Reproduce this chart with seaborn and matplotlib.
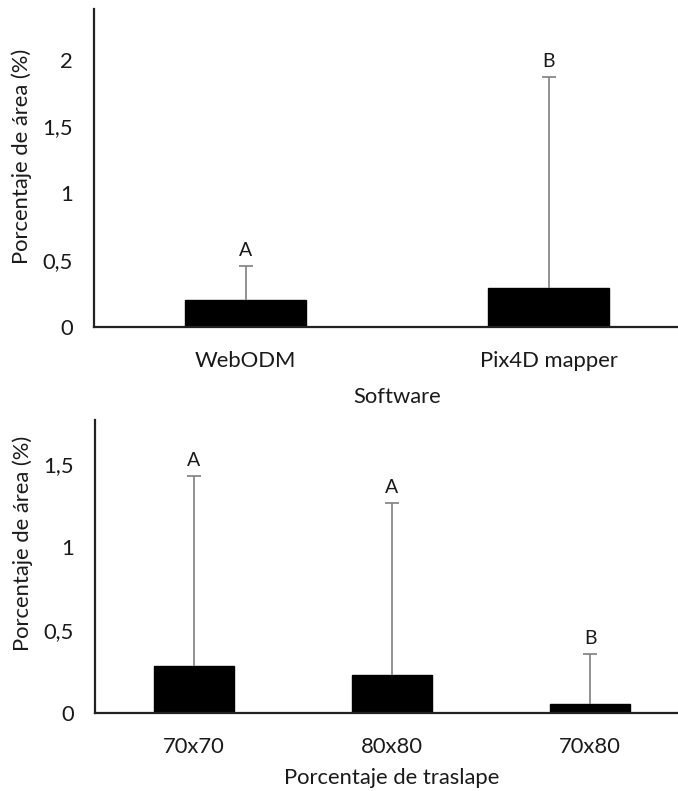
import numpy as np
import matplotlib
matplotlib.use("Agg")
import matplotlib.pyplot as plt
import seaborn as sns

# top panel: software
software = ["WebODM", "Pix4D mapper"]
software_mean = [0.20, 0.29]
software_err = [0.26, 1.58]
software_letters = ["A", "B"]

# bottom panel: overlap
overlap = ["70x70", "80x80", "70x80"]
overlap_mean = [0.285, 0.23, 0.054]
overlap_err = [1.145, 1.035, 0.30]
overlap_letters = ["A", "A", "B"]

sns.set_style("white")
plt.rcParams["font.family"] = ["Lato", "DejaVu Sans"]

W, H = 678, 791
FS = 15.8
TXT = "#1a1a1a"
fig = plt.figure(figsize=(W / 100, H / 100), dpi=100)


def panel(rect, cats, means, errs, letters, ymax, yticks, xlabel, ylab_xy, xlab_y):
    l, b, r, t = rect  # pixel coords
    ax = fig.add_axes([l / W, 1 - b / H, (r - l) / W, (b - t) / H])
    sns.barplot(x=cats, y=means, color="black", saturation=1, width=0.4,
                edgecolor="black", ax=ax)
    xs = np.arange(len(cats))
    _, caps, _ = ax.errorbar(xs, means, yerr=[np.zeros(len(cats)), errs], fmt="none",
                             ecolor="#7f7f7f", elinewidth=1.2, capsize=5, capthick=1.2)
    # only the upper cap
    for c in caps:
        if np.allclose(c.get_ydata(), means):
            c.set_visible(False)
    for x, m, e, s in zip(xs, means, errs, letters):
        ax.annotate(s, (x, m + e), xytext=(0, 5), textcoords="offset points",
                    ha="center", va="bottom", fontsize=14, color=TXT)
    ax.set_xlim(-0.5, len(cats) - 0.5)
    ax.set_ylim(0, ymax)
    ax.set_yticks(yticks)
    ax.set_yticklabels([("%g" % v).replace(".", ",") for v in yticks])
    ax.tick_params(axis="both", length=0, labelsize=FS, colors=TXT)
    ax.tick_params(axis="x", pad=17)
    ax.tick_params(axis="y", pad=15)
    for s in ["top", "right"]:
        ax.spines[s].set_visible(False)
    for s in ["left", "bottom"]:
        ax.spines[s].set_color("#222222")
        ax.spines[s].set_linewidth(1.6)
    ax.set_xlabel(xlabel, fontsize=FS, color=TXT, va="center")
    ax.set_ylabel("Porcentaje de área (%)", fontsize=FS, color=TXT, va="center")
    ax.xaxis.set_label_coords(0.5, (b - xlab_y) / (b - t))
    ax.yaxis.set_label_coords((ylab_xy[0] - l) / (r - l), (b - ylab_xy[1]) / (b - t))
    return ax


panel((94, 327, 700, 9), software, software_mean, software_err, software_letters,
      2.38, [0, 0.5, 1, 1.5, 2], "Software", (22, 156), 397)
panel((95, 713, 689, 420), overlap, overlap_mean, overlap_err, overlap_letters,
      1.765, [0, 0.5, 1, 1.5], "Porcentaje de traslape", (23, 543), 778)

fig.savefig("out.png", dpi=100)
